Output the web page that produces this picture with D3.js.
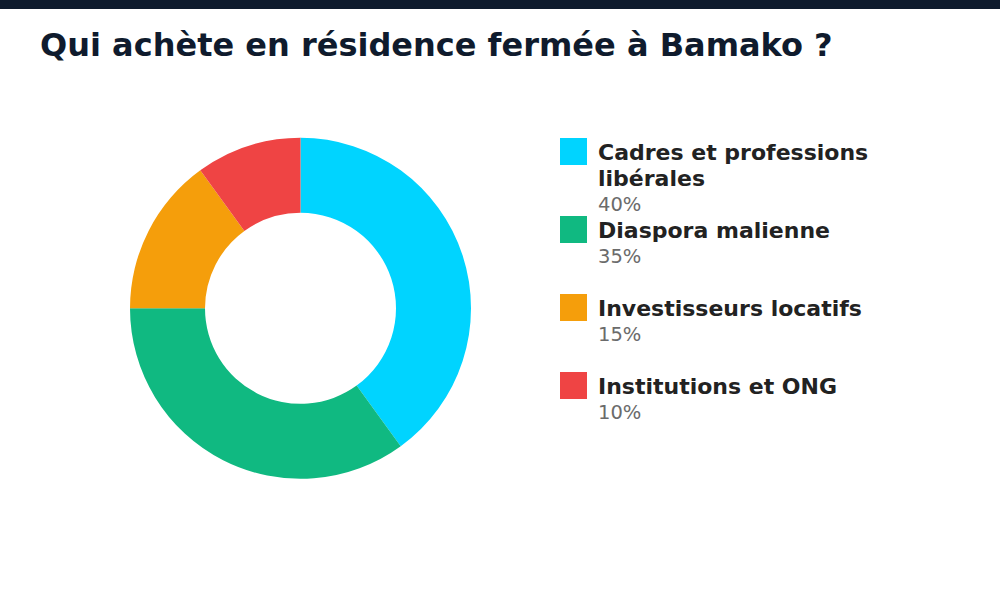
<!DOCTYPE html>
<html>
<head>
<meta charset="utf-8">
<script src="https://cdn.jsdelivr.net/npm/d3@7"></script>
<style>
  body { margin: 0; background: #fff; }
  svg { display: block; font-family: "DejaVu Sans", sans-serif; }
</style>
</head>
<body>
<div id="chart"></div>
<script>
// data
var categories = ["Cadres et professions libérales", "Diaspora malienne", "Investisseurs locatifs", "Institutions et ONG"];
var values = [40, 35, 15, 10];
var colors = ["#00d4ff", "#10b981", "#f59e0b", "#ef4444"];

var width = 1000,
    height = 600,
    cx = 300.5, cy = 308.3,
    outerRadius = 170.5,
    innerRadius = 95.5;

var svg = d3.select("#chart")
  .append("svg")
    .attr("width", width)
    .attr("height", height);

// dark band at the top
svg.append("rect")
    .attr("x", 0).attr("y", 0)
    .attr("width", width).attr("height", 9)
    .attr("fill", "#0f1b2d");

svg.append("text")
    .attr("x", 40)
    .attr("y", 56)
    .attr("fill", "#0f1b2d")
    .style("font-size", "32px")
    .style("font-weight", "bold")
    .text("Qui achète en résidence fermée à Bamako ?");

var data = categories.map(function(c, i) { return {name: c, value: values[i], color: colors[i]}; });

var pie = d3.pie()
    .sort(null)
    .value(function(d) { return d.value; });

var arc = d3.arc()
    .innerRadius(innerRadius)
    .outerRadius(outerRadius);

var g = svg.append("g")
    .attr("transform", "translate(" + cx + "," + cy + ")");

g.selectAll("path")
  .data(pie(data))
  .enter()
  .append("path")
    .attr("d", arc)
    .attr("fill", function(d) { return d.data.color; });

// legend
var legendY = d3.scalePoint()
    .domain(categories)
    .range([138, 372]);

var item = svg.append("g")
  .selectAll("g")
  .data(data)
  .enter()
  .append("g")
    .attr("transform", function(d) { return "translate(560," + legendY(d.name) + ")"; });

item.append("rect")
    .attr("width", 27)
    .attr("height", 27)
    .attr("fill", function(d) { return d.color; });

item.each(function(d) {
  var el = d3.select(this);
  // long labels wrap onto two lines
  var lines = d.name === "Cadres et professions libérales" ? ["Cadres et professions", "libérales"] : [d.name];
  var t = el.append("text")
      .attr("x", 38)
      .attr("y", 22)
      .attr("fill", "#222")
      .style("font-size", "22px")
      .style("font-weight", "bold");
  lines.forEach(function(l, i) {
    t.append("tspan").attr("x", 38).attr("dy", i ? 26 : 0).text(l);
  });
  el.append("text")
      .attr("x", 38)
      .attr("y", 22 + (lines.length - 1) * 26 + 25)
      .attr("fill", "#6b6b6b")
      .style("font-size", "19.5px")
      .text(d.value + "%");
});
</script>
</body>
</html>
